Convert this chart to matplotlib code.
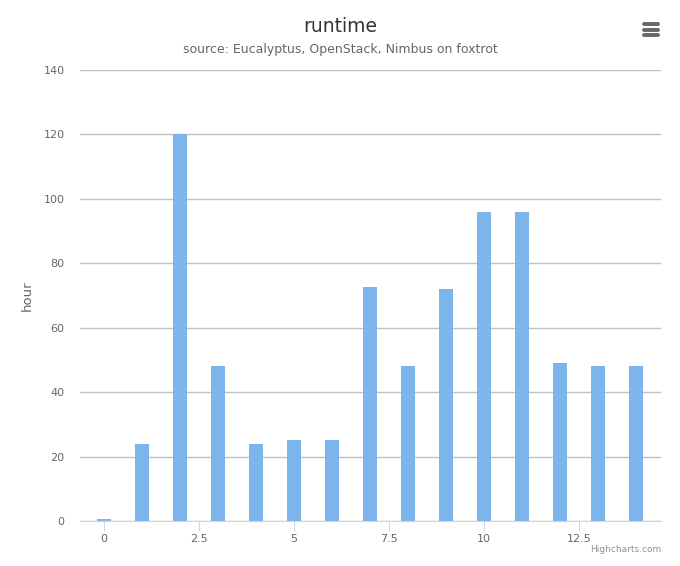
import matplotlib
matplotlib.use("Agg")
import matplotlib.pyplot as plt

x_values = list(range(15))
hours = [0.7, 24, 120, 48, 24, 25, 25, 72.7, 48, 72, 96, 96, 49, 48, 48]
y_ticks = [0, 20, 40, 60, 80, 100, 120, 140]
x_ticks = [0, 2.5, 5, 7.5, 10, 12.5]
x_tick_labels = ["0", "2.5", "5", "7.5", "10", "12.5"]

plt.rcParams['font.family'] = ['DejaVu Sans']
W, H = 680, 566
fig = plt.figure(figsize=(W/100, H/100), dpi=100)
ax = fig.add_axes([80/W, 1-521/H, (661-80)/W, (521-70)/H])

ax.bar(x_values, hours, width=0.37, color="#7cb5ec", zorder=3)
ax.set_xlim(-0.632, 14.66)
ax.set_ylim(0, 140)
ax.set_yticks(y_ticks)
ax.set_yticklabels([str(v) for v in y_ticks], fontsize=8, color="#666666")
ax.set_xticks(x_ticks)
ax.set_xticklabels(x_tick_labels, fontsize=8, color="#666666")
ax.grid(axis="y", color="#c0c0c0", linewidth=1, zorder=0)
for s in ["top", "right", "left"]:
    ax.spines[s].set_visible(False)
ax.spines["bottom"].set_color("#ccd6eb")
ax.spines["bottom"].set_zorder(4)
ax.tick_params(axis="y", length=0, pad=11)
ax.tick_params(axis="x", length=7, color="#ccd6eb", pad=2)
ax.set_ylabel("hour", fontsize=9.5, color="#666666")
ax.yaxis.set_label_coords(-46/581, 0.5)

fig.text(340/W, 1-27/H, "runtime", ha="center", va="center", fontsize=13.5, color="#333333")
fig.text(340/W, 1-50/H, "source: Eucalyptus, OpenStack, Nimbus on foxtrot", ha="center", va="center", fontsize=9, color="#666666")
fig.text(661/W, 1-550/H, "Highcharts.com", ha="right", va="center", fontsize=6.5, color="#909090")

# menu icon
for yy in [24, 29.5, 35]:
    fig.add_artist(plt.Line2D([644/W, 658/W], [1-yy/H, 1-yy/H], color="#666666", linewidth=2.8, solid_capstyle="round"))

fig.savefig("out.png", dpi=100)
